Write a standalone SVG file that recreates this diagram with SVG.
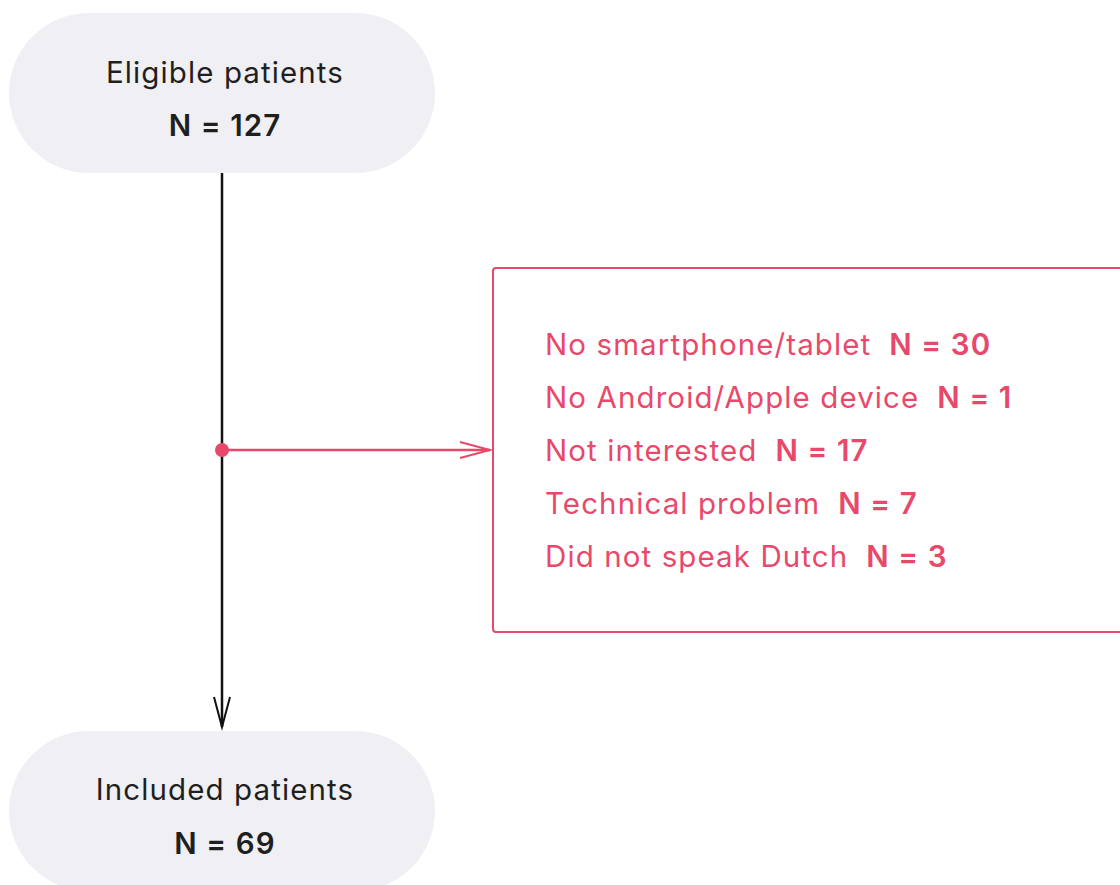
<svg xmlns="http://www.w3.org/2000/svg" width="1120" height="885" viewBox="0 0 1120 885">
<style>
.pill{fill:#efeff4}
.t{font-family:Inter,"Noto Sans",sans-serif;font-size:29.5px;letter-spacing:1.1px;fill:#1f1f1f;text-anchor:middle}
.b{font-weight:600}
.r{font-family:Inter,"Noto Sans",sans-serif;font-size:29.5px;letter-spacing:1.1px;fill:#e8496a}
.n{font-weight:600}
</style>
<defs>
<marker id="ab" markerWidth="40" markerHeight="20" refX="32" refY="10" orient="auto" markerUnits="userSpaceOnUse">
<path d="M2,2 L32,10 L2,18" fill="none" stroke="#111" stroke-width="2"/>
</marker>
<marker id="ar" markerWidth="40" markerHeight="20" refX="32" refY="10" orient="auto" markerUnits="userSpaceOnUse">
<path d="M2,2 L32,10 L2,18" fill="none" stroke="#e8496a" stroke-width="2"/>
</marker>
</defs>
<g id="connectors">
<line x1="222" y1="173" x2="222" y2="727" stroke="#111" stroke-width="2.5" marker-end="url(#ab)"/>
<line x1="222" y1="450" x2="490" y2="450" stroke="#e8496a" stroke-width="2.5" marker-end="url(#ar)"/>
<circle cx="222" cy="450" r="7" fill="#e8496a"/>
</g>
<g id="eligible">
<rect class="pill" x="9" y="13" width="426" height="160" rx="80"/>
<text class="t" x="225" y="83">Eligible patients</text>
<text class="t b" x="225" y="136">N = 127</text>
</g>
<g id="excluded">
<rect x="493" y="268" width="640" height="364" rx="3" fill="#fff" stroke="#e8496a" stroke-width="2"/>
<text class="r" x="545" y="355">No smartphone/tablet<tspan class="n" dx="18">N = 30</tspan></text>
<text class="r" x="545" y="408">No Android/Apple device<tspan class="n" dx="18">N = 1</tspan></text>
<text class="r" x="545" y="461">Not interested<tspan class="n" dx="18">N = 17</tspan></text>
<text class="r" x="545" y="514">Technical problem<tspan class="n" dx="18">N = 7</tspan></text>
<text class="r" x="545" y="567">Did not speak Dutch<tspan class="n" dx="18">N = 3</tspan></text>
</g>
<g id="included">
<rect class="pill" x="9" y="731" width="426" height="160" rx="80"/>
<text class="t" x="225" y="800">Included patients</text>
<text class="t b" x="225" y="854">N = 69</text>
</g>
</svg>
